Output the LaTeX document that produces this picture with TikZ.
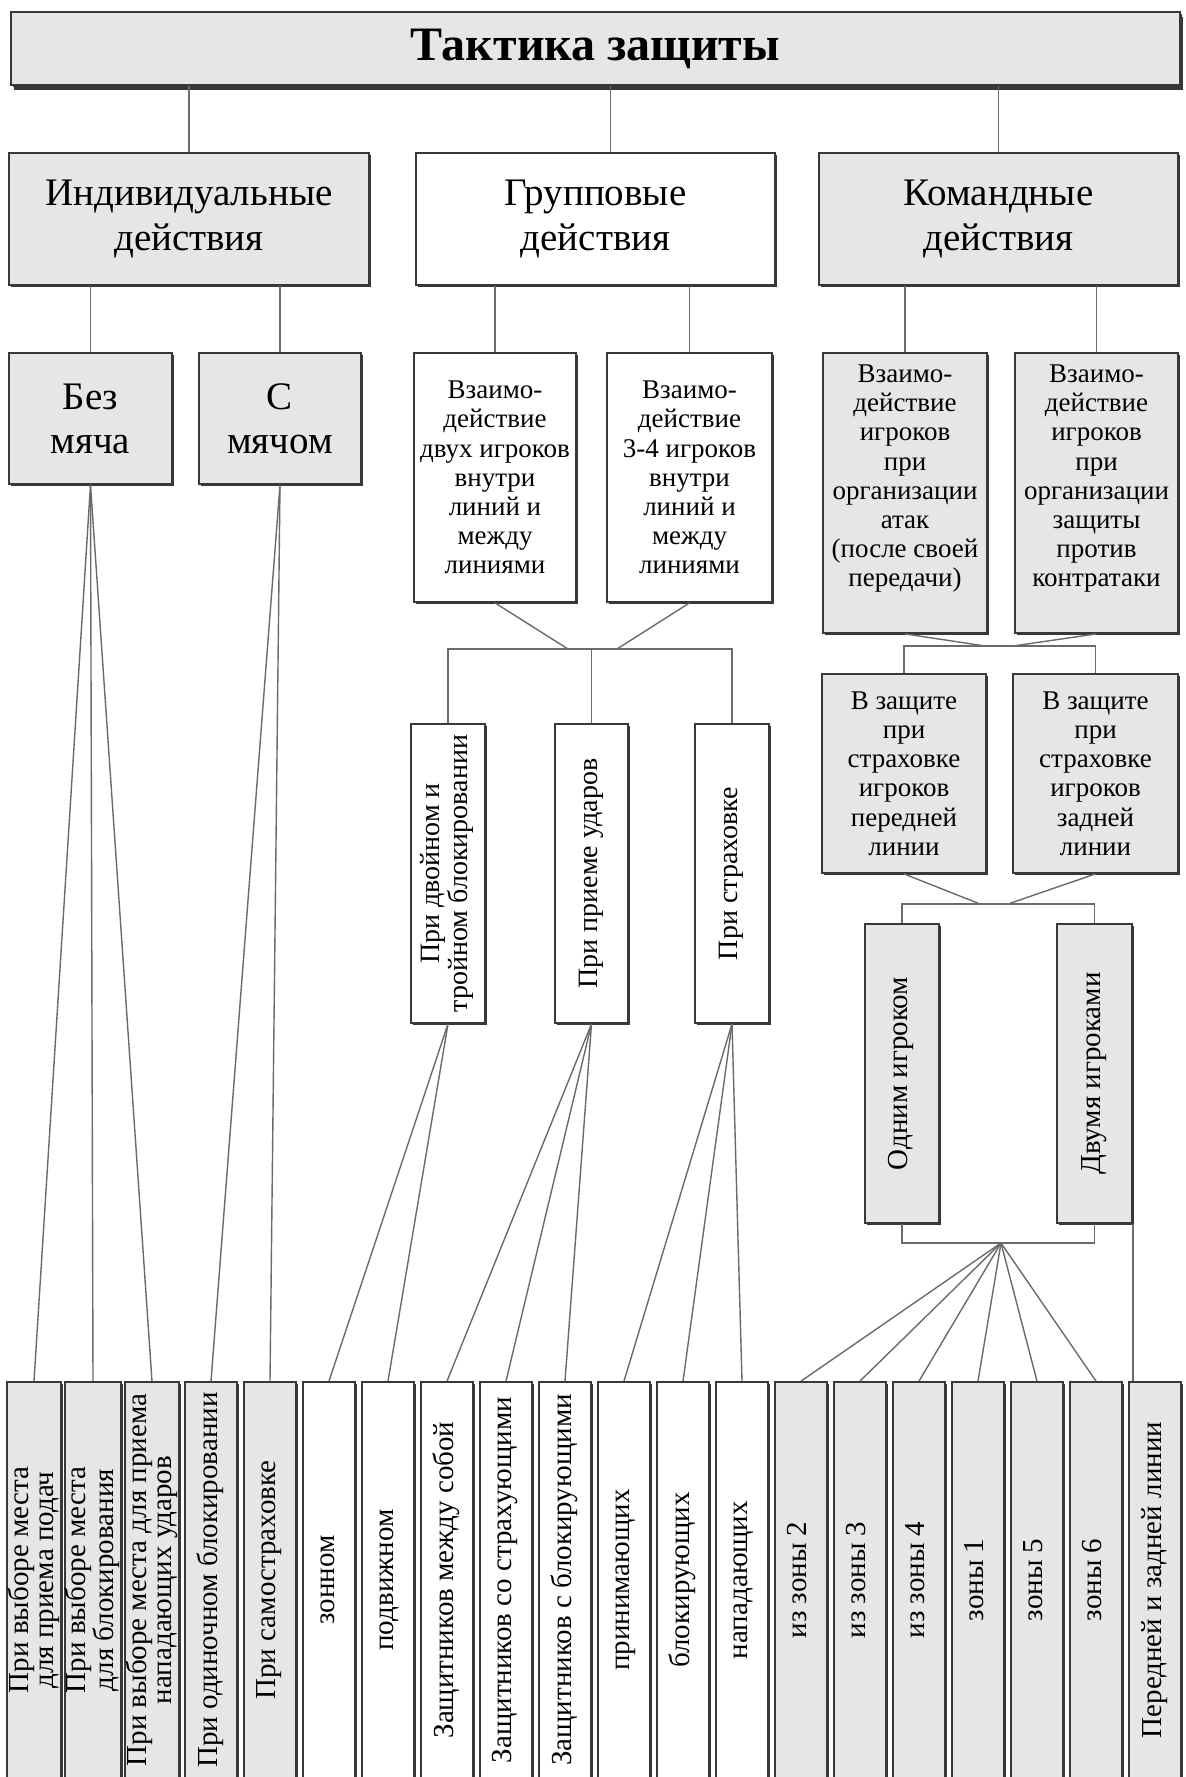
\documentclass[tikz,border=0pt]{standalone}
\usepackage{fontspec}
\usepackage{graphicx}
\setmainfont{Liberation Serif}
\usetikzlibrary{shadows}
\definecolor{boxgrey}{HTML}{E6E6E6}
\definecolor{edgegrey}{HTML}{383838}
\definecolor{linkgrey}{HTML}{6A6A6A}
\newcommand{\vtxt}[1]{\rotatebox{90}{\begin{tabular}{@{}c@{}}#1\end{tabular}}}
\begin{document}
\begin{tikzpicture}[x=0.5pt, y=-0.5pt,
    box/.style={draw=edgegrey, line width=0.9pt, inner sep=0pt, align=center,
      drop shadow={shadow xshift=1pt, shadow yshift=-1pt, fill=edgegrey, opacity=1}},
    greybox/.style={box, fill=boxgrey},
    whitebox/.style={box, fill=white},
    headfont/.style={font=\bfseries\fontsize{24}{28}\selectfont},
    bigfont/.style={font=\fontsize{19.5}{22}\selectfont},
    smallfont/.style={font=\fontsize{13.5}{14.6}\selectfont},
    vertfont/.style={font=\fontsize{14.5}{12.5}\selectfont},
    bottom/.style={minimum width=26pt, minimum height=198pt, vertfont}]
  \useasboundingbox (0,0) rectangle (1186,1777);
  \clip (0,0) rectangle (1186,1777);
  \draw
    (595.5,48.5) node[greybox, headfont, line width=1.2pt, minimum width=584.5pt, minimum height=36.5pt,
      drop shadow={shadow xshift=1.5pt, shadow yshift=-2.5pt, fill=edgegrey, opacity=1}] (title) {Тактика защиты}
    (189,219) node[greybox, bigfont, minimum width=180pt, minimum height=66pt] (ind) {Индивидуальные\\действия}
    (595.5,219) node[whitebox, bigfont, minimum width=179.5pt, minimum height=66pt] (grp) {Групповые\\действия}
    (998.5,219) node[greybox, bigfont, minimum width=179.5pt, minimum height=66pt] (team) {Командные\\действия}
    (90.5,418.5) node[greybox, bigfont, minimum width=81.5pt, minimum height=65.5pt] (nob) {Без\\мяча}
    (280,418.5) node[greybox, bigfont, minimum width=81pt, minimum height=65.5pt] (wb) {С\\мячом}
    (495,477.5) node[whitebox, smallfont, minimum width=81pt, minimum height=124.5pt] (two) {Взаимо-\\действие\\двух игроков\\внутри\\линий и\\между\\линиями}
    (689.5,477.5) node[whitebox, smallfont, minimum width=82.5pt, minimum height=124.5pt] (three) {Взаимо-\\действие\\3-4 игроков\\внутри\\линий и\\между\\линиями}
    (905,493) node[greybox, smallfont, minimum width=82pt, minimum height=140pt] (atk) {Взаимо-\\действие\\игроков\\при\\организации\\атак\\(после своей\\передачи)\\[2.5pt]\mbox{}}
    (1096.5,493) node[greybox, smallfont, minimum width=81.5pt, minimum height=140pt] (def) {Взаимо-\\действие\\игроков\\при\\организации\\защиты\\против\\контратаки\\[2.5pt]\mbox{}}
    (448,873.5) node[whitebox, font=\fontsize{14}{14}\selectfont, minimum width=37pt, minimum height=149.5pt] (gblock) {\vtxt{При двойном и\\тройном блокировании}}
    (591.5,873.5) node[whitebox, font=\fontsize{14}{14}\selectfont, minimum width=36.5pt, minimum height=149.5pt] (grecv) {\vtxt{При приеме ударов}}
    (732,873.5) node[whitebox, font=\fontsize{14}{14}\selectfont, minimum width=37pt, minimum height=149.5pt] (gcover) {\vtxt{При страховке}}
    (904,773.5) node[greybox, smallfont, minimum width=82pt, minimum height=99.5pt] (front) {В защите\\при\\страховке\\игроков\\передней\\линии}
    (1095.5,773.5) node[greybox, smallfont, minimum width=82.5pt, minimum height=99.5pt] (back) {В защите\\при\\страховке\\игроков\\задней\\линии}
    (902,1073.5) node[greybox, font=\fontsize{14.5}{14.5}\selectfont, minimum width=37pt, minimum height=149.5pt] (one) {\vtxt{Одним игроком}}
    (1094.5,1073.5) node[greybox, font=\fontsize{14.5}{14.5}\selectfont, minimum width=37.5pt, minimum height=149.5pt] (pair) {\vtxt{Двумя игроками}}
    (34,1580) node[greybox, bottom] (b1) {\vtxt{При выборе места\\для приема подач}}
    (93,1580) node[greybox, bottom] (b2) {\vtxt{При выборе места\\для блокирования}}
    (152,1580) node[greybox, bottom] (b3) {\vtxt{При выборе места для приема\\нападающих ударов}}
    (211,1580) node[greybox, bottom] (b4) {\vtxt{При одиночном блокировании}}
    (270,1580) node[greybox, bottom] (b5) {\vtxt{При самостраховке}}
    (329,1580) node[whitebox, bottom] (b6) {\vtxt{зонном}}
    (388,1580) node[whitebox, bottom] (b7) {\vtxt{подвижном}}
    (447,1580) node[whitebox, bottom] (b8) {\vtxt{Защитников между собой}}
    (506,1580) node[whitebox, bottom] (b9) {\vtxt{Защитников со страхующими}}
    (565,1580) node[whitebox, bottom] (b10) {\vtxt{Защитников с блокирующими}}
    (624,1580) node[whitebox, bottom] (b11) {\vtxt{принимающих}}
    (683,1580) node[whitebox, bottom] (b12) {\vtxt{блокирующих}}
    (742,1580) node[whitebox, bottom] (b13) {\vtxt{нападающих}}
    (801,1580) node[greybox, bottom] (b14) {\vtxt{из зоны 2}}
    (860,1580) node[greybox, bottom] (b15) {\vtxt{из зоны 3}}
    (919,1580) node[greybox, bottom] (b16) {\vtxt{из зоны 4}}
    (978,1580) node[greybox, bottom] (b17) {\vtxt{зоны 1}}
    (1037,1580) node[greybox, bottom] (b18) {\vtxt{зоны 5}}
    (1096,1580) node[greybox, bottom] (b19) {\vtxt{зоны 6}}
    (1155,1580) node[greybox, bottom] (b20) {\vtxt{Передней и задней линии}};
  \coordinate (gl) at (568,649);
  \coordinate (gr) at (617,649);
  \coordinate (tl) at (985,646);
  \coordinate (tr) at (1013,646);
  \coordinate (bl) at (980,904);
  \coordinate (br) at (1008,904);
  \coordinate (hub) at (1001,1243);
  \begin{scope}[draw=linkgrey, line width=0.7pt]
    \draw (title.south -| ind.north) to (ind.north);
    \draw ([xshift=7.5pt]grp.north |- title.south) to ([xshift=7.5pt]grp.north);
    \draw (title.south -| team.north) to (team.north);
    \draw (ind.south -| nob.north) to (nob.north);
    \draw (ind.south -| wb.north) to (wb.north);
    \draw (grp.south -| two.north) to (two.north);
    \draw (grp.south -| three.north) to (three.north);
    \draw (team.south -| atk.north) to (atk.north);
    \draw (team.south -| def.north) to (def.north);
    \draw (two.south) to (gl);
    \draw (three.south) to (gr);
    \draw (gblock.north) to (gblock.north |- gl) to (gcover.north |- gl) to (gcover.north);
    \draw (grecv.north) to (grecv.north |- gl);
    \draw (atk.south) to (tl);
    \draw (def.south) to (tr);
    \draw (front.north) to (front.north |- tl) to (back.north |- tl) to (back.north);
    \draw (front.south) to (bl);
    \draw (back.south) to (br);
    \draw (one.north) to (one.north |- bl) to (pair.north |- bl) to (pair.north);
    \draw (one.south) to (one.south |- hub) to (pair.south |- hub) to (pair.south);
    \draw (nob.south) to (b1.north);
    \draw (nob.south) to (b2.north);
    \draw (nob.south) to (b3.north);
    \draw (wb.south) to (b4.north);
    \draw (wb.south) to (b5.north);
    \draw (gblock.south) to (b6.north);
    \draw (gblock.south) to (b7.north);
    \draw (grecv.south) to (b8.north);
    \draw (grecv.south) to (b9.north);
    \draw (grecv.south) to (b10.north);
    \draw (gcover.south) to (b11.north);
    \draw (gcover.south) to (b12.north);
    \draw (gcover.south) to (b13.north);
    \draw (hub) to (b14.north);
    \draw (hub) to (b15.north);
    \draw (hub) to (b16.north);
    \draw (hub) to (b17.north);
    \draw (hub) to (b18.north);
    \draw (hub) to (b19.north);
    \draw (pair.south east) to (pair.south east |- b20.north);
  \end{scope}
\end{tikzpicture}
\end{document}
